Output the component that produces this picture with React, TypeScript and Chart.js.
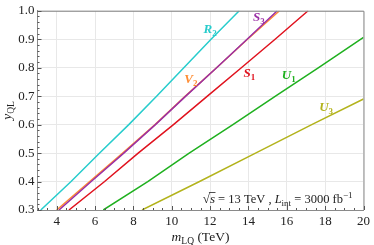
import React, { useEffect, useRef } from "react";
import { Chart, registerables } from "chart.js";
Chart.register(...registerables);

// y_QL levels at which the curves were read
const yLevels = [0.3, 0.4, 0.5, 0.6, 0.7, 0.8, 0.9, 1.0];
const mR2 = [3.17, 4.75, 6.24, 7.76, 9.21, 10.63, 12.05, 13.52];
const mV2 = [4.0, 5.72, 7.44, 9.13, 10.71, 12.34, 13.95, 15.62];
const mS3 = [4.12, 5.8, 7.5, 9.15, 10.73, 12.34, 13.93, 15.5];
const mS1 = [4.64, 6.5, 8.25, 10.09, 11.86, 13.63, 15.39, 17.11];
const yU1 = [0.3, 0.4, 0.5, 0.6, 0.7, 0.8, 0.907];
const mU1 = [6.43, 8.75, 10.91, 13.19, 15.41, 17.66, 20];
const yU3 = [0.3, 0.4, 0.5, 0.6, 0.69];
const mU3 = [8.45, 11.45, 14.37, 17.3, 20];

const xTicks = [4, 6, 8, 10, 12, 14, 16, 18, 20];
const yTicks = [0.3, 0.4, 0.5, 0.6, 0.7, 0.8, 0.9, 1.0];

const SERIF = '"Liberation Serif", "DejaVu Serif", serif';

const series = [
  { name: "R", sub: "2", m: mR2, y: yLevels, color: "#27cccc", lx: 12.0, ly: 0.94 },
  { name: "S", sub: "3", m: mS3, y: yLevels, color: "#9a2fa6", lx: 14.55, ly: 0.98 },
  { name: "V", sub: "2", m: mV2, y: yLevels, color: "#ff8c32", lx: 11.0, ly: 0.765 },
  { name: "S", sub: "1", m: mS1, y: yLevels, color: "#e0121e", lx: 14.05, ly: 0.785 },
  { name: "U", sub: "1", m: mU1, y: yU1, color: "#1fb01f", lx: 16.1, ly: 0.778 },
  { name: "U", sub: "3", m: mU3, y: yU3, color: "#b3b31c", lx: 18.05, ly: 0.667 },
];

type Part = { t: string; font: string; dy?: number; color?: string; over?: boolean };

function drawRich(ctx: CanvasRenderingContext2D, x: number, y: number, parts: Part[], align: "left" | "center" | "right", color: string) {
  let total = 0;
  for (const p of parts) {
    ctx.font = p.font;
    total += ctx.measureText(p.t).width;
  }
  let cx = align === "left" ? x : align === "center" ? x - total / 2 : x - total;
  ctx.textAlign = "left";
  ctx.textBaseline = "alphabetic";
  for (const p of parts) {
    ctx.font = p.font;
    ctx.fillStyle = p.color || color;
    const w = ctx.measureText(p.t).width;
    ctx.fillText(p.t, cx, y + (p.dy || 0));
    if (p.over) {
      ctx.strokeStyle = p.color || color;
      ctx.lineWidth = 0.8;
      ctx.beginPath();
      ctx.moveTo(cx - 1, y - 10.5);
      ctx.lineTo(cx + w + 0.5, y - 10.5);
      ctx.stroke();
    }
    cx += w;
  }
}

const decor = {
  id: "decor",
  afterDraw(chart: any) {
    const ctx: CanvasRenderingContext2D = chart.ctx;
    const a = chart.chartArea;
    const xs = chart.scales.x;
    const ys = chart.scales.y;
    ctx.save();
    // frame
    ctx.strokeStyle = "#8a8a8a";
    ctx.lineWidth = 1;
    ctx.beginPath();
    ctx.moveTo(a.left, a.top + 0.5);
    ctx.lineTo(a.right + 0.5, a.top + 0.5);
    ctx.lineTo(a.right + 0.5, a.bottom);
    ctx.stroke();
    // inner ticks
    ctx.strokeStyle = "#555";
    ctx.beginPath();
    for (let v = 0.3; v <= 1.0001; v += 0.02) {
      const py = Math.round(ys.getPixelForValue(v)) + 0.5;
      const major = Math.abs(v * 10 - Math.round(v * 10)) < 1e-6;
      ctx.moveTo(a.left, py);
      ctx.lineTo(a.left + (major ? 4 : 2), py);
    }
    for (let v = 3; v <= 20.0001; v += 0.5) {
      const px = Math.round(xs.getPixelForValue(v)) + 0.5;
      const major = Math.abs(v / 2 - Math.round(v / 2)) < 1e-6;
      ctx.moveTo(px, a.bottom);
      ctx.lineTo(px, a.bottom - (major ? 4 : 2));
    }
    ctx.stroke();
    // series labels
    for (const s of series) {
      const px = xs.getPixelForValue(s.lx);
      const py = ys.getPixelForValue(s.ly) + 5;
      drawRich(ctx, px, py, [
        { t: s.name, font: `italic bold 13px ${SERIF}` },
        { t: s.sub, font: `bold 9px ${SERIF}`, dy: 3 },
      ], "center", s.color);
    }
    // annotation
    drawRich(ctx, a.right - 11, a.bottom - 7, [
      { t: "\u221A", font: `13px ${SERIF}` },
      { t: "s", font: `italic 13px ${SERIF}`, over: true },
      { t: " = 13 TeV , ", font: `12.5px ${SERIF}` },
      { t: "L", font: `italic 12.5px ${SERIF}` },
      { t: "int", font: `9px ${SERIF}`, dy: 3 },
      { t: " = 3000 fb", font: `12.5px ${SERIF}` },
      { t: "\u22121", font: `9px ${SERIF}`, dy: -5 },
    ], "right", "#222");
    // x title
    drawRich(ctx, (a.left + a.right) / 2, a.bottom + 31, [
      { t: "m", font: `italic 13.5px ${SERIF}` },
      { t: "LQ", font: `9.5px ${SERIF}`, dy: 3 },
      { t: " (TeV)", font: `13.5px ${SERIF}` },
    ], "center", "#222");
    // y title
    ctx.save();
    ctx.translate(11, (a.top + a.bottom) / 2);
    ctx.rotate(-Math.PI / 2);
    drawRich(ctx, 0, 0, [
      { t: "y", font: `italic 13.5px ${SERIF}` },
      { t: "QL", font: `9.5px ${SERIF}`, dy: 3 },
    ], "center", "#222");
    ctx.restore();
    ctx.restore();
  },
};

export default function App() {
  const ref = useRef<HTMLCanvasElement>(null);
  useEffect(() => {
    document.body.style.margin = "0";
    const datasets = series.map((s) => ({
      label: s.name + s.sub,
      data: s.m.map((m, i) => ({ x: m, y: s.y[i] })),
      borderColor: s.color,
      backgroundColor: s.color,
      borderWidth: 1.5,
      showLine: true,
      pointRadius: 0,
      fill: false,
    }));
    const chart = new Chart(ref.current!, {
      type: "scatter",
      data: { datasets },
      options: {
        animation: false,
        responsive: false,
        layout: { padding: { top: 6, right: 6, left: 0, bottom: 0 } },
        plugins: { legend: { display: false }, tooltip: { enabled: false } },
        scales: {
          x: {
            type: "linear",
            min: 3,
            max: 20,
            afterBuildTicks: (axis: any) => {
              axis.ticks = xTicks.map((v) => ({ value: v }));
            },
            afterFit: (scale: any) => {
              scale.height = 35;
            },
            grid: { color: "#e8e8e8", drawTicks: false, lineWidth: 1 },
            border: { display: true, color: "#8a8a8a" },
            ticks: {
              padding: 4,
              color: "#222",
              font: { family: SERIF, size: 13 },
              maxRotation: 0,
              callback: (v: any) => String(v),
            },
          },
          y: {
            type: "linear",
            min: 0.3,
            max: 1.0,
            afterBuildTicks: (axis: any) => {
              axis.ticks = yTicks.map((v) => ({ value: v }));
            },
            afterFit: (scale: any) => {
              scale.width = 37.5;
            },
            grid: { color: "#e8e8e8", drawTicks: false, lineWidth: 1 },
            border: { display: true, color: "#8a8a8a" },
            ticks: {
              padding: 3,
              color: "#222",
              font: { family: SERIF, size: 13 },
              callback: (v: any) => Number(v).toFixed(1),
            },
          },
        },
      },
      plugins: [decor],
    });
    return () => chart.destroy();
  }, []);
  return (
    <div style={{ width: 374, height: 245 }}>
      <canvas ref={ref} width={374} height={245} style={{ display: "block" }} />
    </div>
  );
}
